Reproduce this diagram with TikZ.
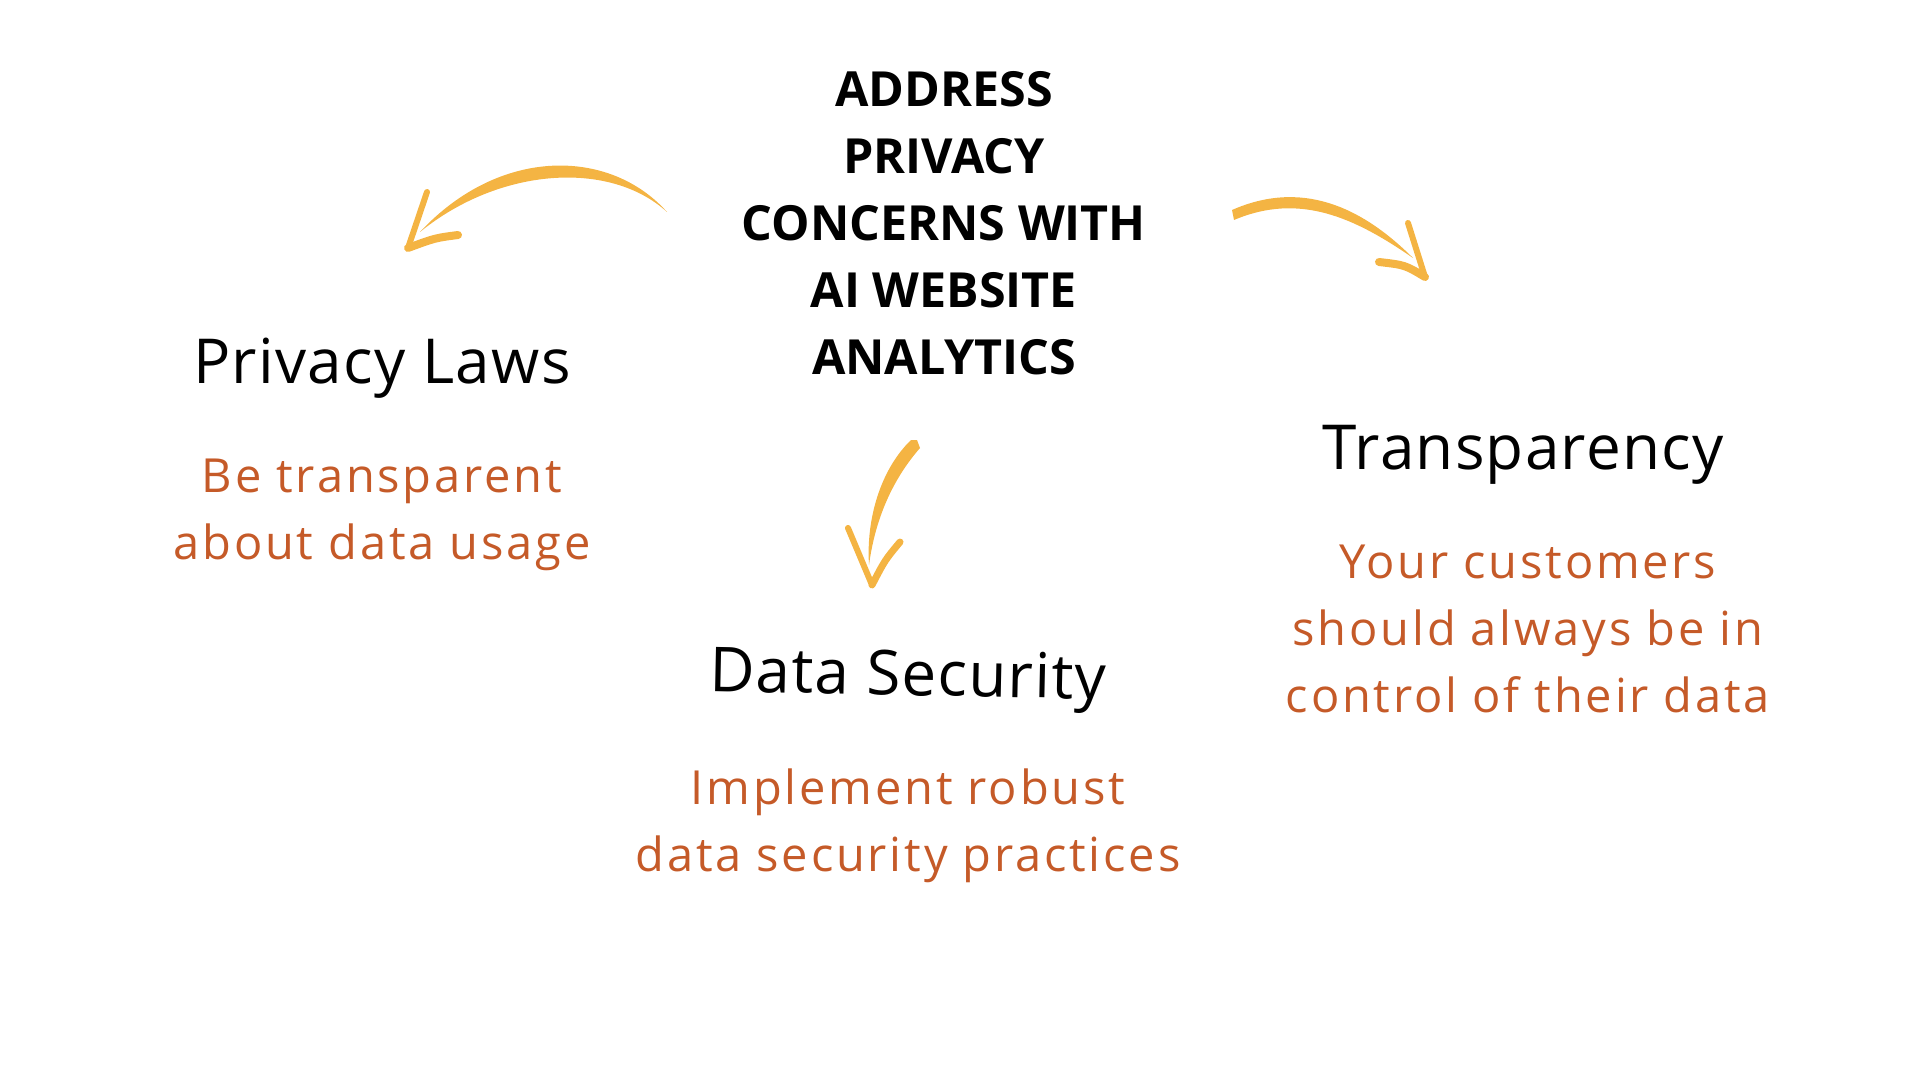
\documentclass[tikz,border=0pt]{standalone}
\usepackage{fontspec}
\setmainfont{Open Sans}
\newfontfamily\lsfont[LetterSpace=6]{Open Sans}
\newfontfamily\tsfont[LetterSpace=2]{Open Sans}
\definecolor{arrowc}{HTML}{F4B443}
\definecolor{orangec}{HTML}{C55A28}
\tikzset{
  titletext/.style={align=center, font=\bfseries\fontsize{24.2pt}{33.5pt}\selectfont, text=black, inner sep=0pt},
  headtext/.style={align=center, font=\tsfont\fontsize{31pt}{36pt}\selectfont, text=black, inner sep=0pt},
  desctext/.style={align=center, font=\lsfont\fontsize{23.5pt}{33.5pt}\selectfont, text=orangec, inner sep=0pt},
  brush/.style={fill=arrowc, draw=none},
  barb/.style={draw=arrowc, line width=3pt, line cap=round}
}
\begin{document}
\begin{tikzpicture}[x=0.5pt,y=-0.5pt]
\useasboundingbox (0,0) rectangle (1920,1080);
\node[titletext] (title) at (944,223) {ADDRESS\\PRIVACY\\CONCERNS WITH\\AI WEBSITE\\ANALYTICS};
\node[headtext] (laws) at (382,368) {Privacy Laws};
\node[desctext] (lawsd) at (382,515) {Be transparent\\about data usage};
\node[headtext, rotate=-1.2] (sec) at (908,680) {Data Security};
\node[desctext] (secd) at (908,826) {Implement robust\\data security practices};
\node[headtext] (trans) at (1523,455) {Transparency};
\node[desctext] (transd) at (1528,629) {Your customers\\should always be in\\control of their data};
% left arrow
\coordinate (l0) at (667,212);
\coordinate (l1) at (420,232);
\coordinate (lt) at (408,248);
\fill[brush] (l0) .. controls (610,148) and (500,146) .. (l1)
  .. controls (500,167) and (610,160) .. (l0) -- cycle;
\draw[barb] (427,192) -- (lt);
\draw[barb, line width=4pt] (458,235) .. controls (435,238) .. (lt);
% right arrow
\coordinate (r0) at (1232,210);
\coordinate (r1) at (1413,258);
\coordinate (rt) at (1425,277);
\fill[brush] (r0) .. controls (1300,180) and (1360,205) .. (r1)
  .. controls (1355,218) and (1300,192) .. (1234,220) -- cycle;
\draw[barb] (1408,223) -- (rt);
\draw[barb, line width=4pt] (1379,262) .. controls (1405,265) .. (rt);
% down arrow
\coordinate (d0) at (917,440);
\coordinate (d1) at (869,565);
\coordinate (dt) at (872,585);
\fill[brush] (d0) -- (920,448) .. controls (892,480) and (875,520) .. (d1)
  .. controls (866,520) and (880,470) .. (911,440) -- cycle;
\draw[barb] (848,528) -- (dt);
\draw[barb, line width=3.5pt] (900,542) .. controls (885,560) .. (dt);
\end{tikzpicture}
\end{document}
